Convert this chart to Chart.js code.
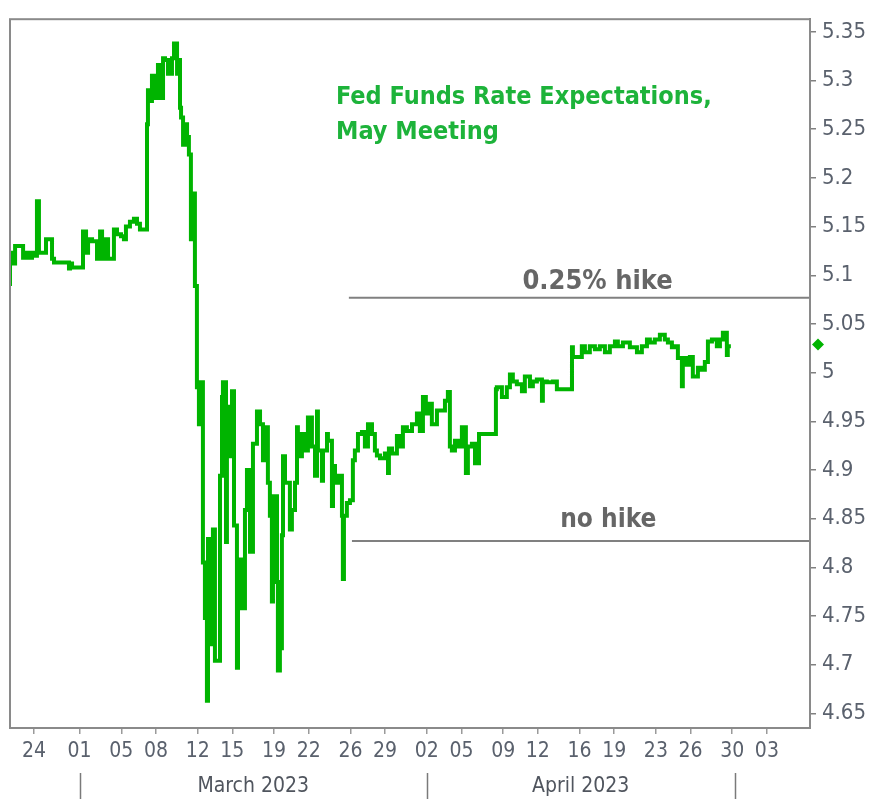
<!DOCTYPE html>
<html>
<head>
<meta charset="utf-8">
<script src="https://cdn.jsdelivr.net/npm/chart.js@4"></script>
<style>
    html, body { margin: 0; padding: 0; background: #fff; }
    #wrap { width: 873px; height: 799px; }
</style>
</head>
<body>
<div id="wrap"><canvas id="myChart" width="873" height="799"></canvas></div>
<script>
// trading days since 24 Feb 2023 (weekends squeezed out)
const days = [
    -1.56, -1.49, -1.23, -0.71, -0.58, -0.39, -0.13, 0.06, 0.19, 0.32, 0.52, 0.78, 1.17, 1.30, 1.43,
    2.27, 2.34, 2.47, 2.79, 3.18, 3.38, 3.51, 3.77, 4.09, 4.29, 4.42, 4.61, 4.81, 4.94, 5.19,
    5.39, 5.65, 5.84, 5.97, 6.23, 6.49, 6.69, 6.88, 7.08, 7.34, 7.40, 7.47, 7.66, 7.79, 7.92,
    8.05, 8.18, 8.38, 8.51, 8.70, 8.96, 9.09, 9.29, 9.35, 9.48, 9.55, 9.68, 9.81, 9.94, 10.06,
    10.19, 10.32, 10.45, 10.58, 10.71, 10.78, 10.97, 11.10, 11.23, 11.30, 11.36, 11.56, 11.62, 11.75, 11.88,
    12.08, 12.21, 12.27, 12.47, 12.53, 12.66, 12.86, 12.99, 13.18, 13.25, 13.51, 13.70, 13.83, 14.03, 14.22,
    14.48, 14.68, 14.87, 15.06, 15.19, 15.32, 15.45, 15.52, 15.78, 15.84, 15.97, 16.10, 16.17, 16.30, 16.43,
    16.62, 16.75, 16.95, 17.08, 17.14, 17.40, 17.60, 17.79, 18.05, 18.25, 18.38, 18.44, 18.70, 18.77, 19.03,
    19.09, 19.35, 19.42, 19.55, 19.74, 20.00, 20.06, 20.13, 20.32, 20.52, 20.71, 20.84, 21.04, 21.30, 21.49,
    21.69, 21.95, 22.14, 22.27, 22.47, 22.79, 22.99, 23.05, 23.25, 23.57, 23.77, 23.96, 24.22, 24.55, 24.87,
    25.06, 25.26, 25.45, 25.58, 25.84, 26.17, 26.36, 26.69, 26.88, 27.01, 27.14, 27.34, 27.53, 27.79, 28.05,
    28.18, 28.44, 28.64, 28.90, 29.16, 29.61, 30.00, 30.06, 30.39, 30.71, 30.91, 31.10, 31.36, 31.69, 31.88,
    32.21, 32.40, 32.66, 32.99, 33.05, 33.31, 33.70, 33.96, 34.16, 34.48, 34.94, 35.00, 35.26, 35.58, 35.78,
    36.10, 36.43, 36.75, 37.08, 37.40, 37.73, 37.92, 38.25, 38.70, 39.16, 39.48, 39.81, 40.00, 40.32, 40.65,
    40.97, 41.17, 41.43, 41.62, 41.82, 42.08, 42.14, 42.40, 42.60, 42.79, 42.92, 43.12, 43.38, 43.57, 43.77,
    44.03, 44.35, 44.55, 44.74, 45.00, 45.06, 45.26
];

// implied rate for the May meeting
const rates = [
    5.089, 5.123, 5.112, 5.130, 5.118, 5.123, 5.118, 5.123, 5.120, 5.176, 5.123, 5.123, 5.137, 5.117, 5.113,
    5.113, 5.107, 5.112, 5.108, 5.108, 5.145, 5.123, 5.137, 5.135, 5.117, 5.145, 5.117, 5.137, 5.117, 5.117,
    5.147, 5.142, 5.140, 5.137, 5.150, 5.155, 5.158, 5.153, 5.147, 5.147, 5.255, 5.290, 5.279, 5.305, 5.282,
    5.297, 5.316, 5.282, 5.323, 5.321, 5.307, 5.323, 5.338, 5.307, 5.321, 5.272, 5.262, 5.234, 5.255, 5.242,
    5.224, 5.137, 5.184, 5.089, 4.985, 4.947, 4.990, 4.805, 4.748, 4.663, 4.829, 4.721, 4.823, 4.839, 4.704,
    4.704, 4.894, 4.975, 4.990, 4.826, 4.965, 4.914, 4.981, 4.843, 4.697, 4.808, 4.758, 4.859, 4.900, 4.816,
    4.927, 4.960, 4.947, 4.910, 4.944, 4.887, 4.853, 4.765, 4.873, 4.785, 4.694, 4.717, 4.833, 4.914, 4.887,
    4.887, 4.839, 4.859, 4.887, 4.944, 4.914, 4.937, 4.920, 4.954, 4.924, 4.894, 4.960, 4.920, 4.889, 4.920,
    4.937, 4.930, 4.863, 4.904, 4.887, 4.894, 4.853, 4.788, 4.853, 4.866, 4.869, 4.910, 4.920, 4.937, 4.939,
    4.924, 4.947, 4.937, 4.920, 4.915, 4.912, 4.917, 4.897, 4.922, 4.917, 4.935, 4.924, 4.944, 4.940, 4.947,
    4.958, 4.940, 4.975, 4.958, 4.968, 4.947, 4.961, 4.961, 4.971, 4.980, 4.924, 4.920, 4.930, 4.924, 4.944,
    4.897, 4.924, 4.927, 4.907, 4.937, 4.937, 4.937, 4.983, 4.985, 4.975, 4.985, 4.998, 4.991, 4.988, 4.981,
    4.996, 4.986, 4.991, 4.993, 4.971, 4.991, 4.990, 4.991, 4.983, 4.983, 4.983, 5.026, 5.016, 5.016, 5.027,
    5.021, 5.027, 5.024, 5.027, 5.021, 5.027, 5.032, 5.027, 5.031, 5.026, 5.021, 5.027, 5.034, 5.031, 5.034,
    5.039, 5.034, 5.031, 5.026, 5.027, 5.015, 4.986, 5.015, 5.008, 5.016, 4.996, 4.996, 5.005, 5.003, 5.011,
    5.032, 5.034, 5.027, 5.034, 5.041, 5.018, 5.027
];

const latest = 5.029;

// reference levels: current rate and a 25bp hike
const refLevels = [5.077, 4.827];
const refStart = [20.45, 20.65];
const refLabels = ["0.25% hike", "no hike"];
const refLabelAt = [36.6, 37.3];
const refLabelLevel = [5.093, 4.848];

// axis ticks
const xTickDays = [0, 2.96, 5.67, 7.92, 10.63, 12.88, 15.59, 17.84, 20.55, 22.8,
    25.51, 27.76, 30.47, 32.72, 35.43, 37.68, 40.39, 42.64, 45.35, 47.6];
const xTickLabels = ["24", "01", "05", "08", "12", "15", "19", "22", "26", "29",
    "02", "05", "09", "12", "16", "19", "23", "26", "30", "03"];
const monthBounds = [2.96, 25.51, 45.5];
const monthLabels = ["March 2023", "April 2023"];
const yTicks = [4.65, 4.7, 4.75, 4.8, 4.85, 4.9, 4.95, 5, 5.05, 5.1, 5.15, 5.2, 5.25, 5.3, 5.35];
const yTickLabels = ["4.65", "4.7", "4.75", "4.8", "4.85", "4.9", "4.95", "5", "5.05", "5.1", "5.15", "5.2", "5.25", "5.3", "5.35"];

const xMin = -1.56;
const xMax = 50.4;

const FONT = "'DejaVu Sans Condensed', 'DejaVu Sans', sans-serif";
const green = "#00b400";
const gray = "#808080";
const labelColor = "#5a616d";

// text, border, month row, last value marker
const extras = {
    id: "extras",
    afterDraw(chart) {
        const ctx = chart.ctx;
        const area = chart.chartArea;
        const x = chart.scales.x;
        const y = chart.scales.y;
        ctx.save();

        // plot frame
        ctx.strokeStyle = "#8a8a8a";
        ctx.lineWidth = 2;
        ctx.strokeRect(area.left, area.top, area.right - area.left, area.bottom - area.top);

        // title
        ctx.fillStyle = "#1db33a";
        ctx.font = "bold 25px " + FONT;
        ctx.textAlign = "left";
        ctx.textBaseline = "middle";
        ctx.fillText("Fed Funds Rate Expectations,", 336, 97);
        ctx.fillText("May Meeting", 336, 132);

        // level labels
        ctx.fillStyle = "#666666";
        ctx.textAlign = "center";
        ctx.font = "bold 27px " + FONT;
        ctx.fillText(refLabels[0], x.getPixelForValue(refLabelAt[0]), y.getPixelForValue(refLabelLevel[0]));
        ctx.font = "bold 26px " + FONT;
        ctx.fillText(refLabels[1], x.getPixelForValue(refLabelAt[1]), y.getPixelForValue(refLabelLevel[1]));

        // month row
        ctx.strokeStyle = "#7a7a7a";
        ctx.lineWidth = 1.5;
        monthBounds.forEach(d => {
            let px = Math.round(x.getPixelForValue(d)) + 0.5;
            ctx.beginPath();
            ctx.moveTo(px, 773);
            ctx.lineTo(px, 799);
            ctx.stroke();
        });
        ctx.fillStyle = "#50555e";
        ctx.font = "21px " + FONT;
        monthLabels.forEach((t, i) => {
            let cx = (x.getPixelForValue(monthBounds[i]) + x.getPixelForValue(monthBounds[i + 1])) / 2;
            ctx.fillText(t, cx, 787);
        });

        // last value marker
        let my = y.getPixelForValue(latest);
        let mx = area.right + 8;
        ctx.fillStyle = green;
        ctx.beginPath();
        ctx.moveTo(mx, my - 6);
        ctx.lineTo(mx + 6, my);
        ctx.lineTo(mx, my + 6);
        ctx.lineTo(mx - 6, my);
        ctx.closePath();
        ctx.fill();

        ctx.restore();
    }
};

const refSets = refLevels.map((lvl, i) => ({
    data: [{ x: refStart[i], y: lvl }, { x: xMax, y: lvl }],
    borderColor: gray,
    borderWidth: 2,
    pointRadius: 0,
}));

const config = {
    type: "line",
    data: {
        datasets: [{
            label: "May meeting",
            data: days.map((d, i) => ({ x: d, y: rates[i] })),
            borderColor: green,
            borderWidth: 4,
            pointRadius: 0,
            stepped: "after",
        }].concat(refSets)
    },
    options: {
        responsive: false,
        animation: false,
        events: [],
        layout: { padding: { left: 10, top: 10, right: 0, bottom: 0 } },
        plugins: {
            legend: { display: false },
            tooltip: { enabled: false },
        },
        scales: {
            x: {
                type: "linear",
                min: xMin,
                max: xMax,
                afterBuildTicks: s => { s.ticks = xTickDays.map(v => ({ value: v })); },
                afterFit: s => { s.height = 71; },
                grid: { drawOnChartArea: false, tickLength: 6, color: "#9a9a9a", lineWidth: 1.5 },
                border: { display: true, color: gray, width: 2 },
                ticks: {
                    autoSkip: false,
                    maxRotation: 0,
                    padding: 5,
                    color: labelColor,
                    font: { family: FONT, size: 21 },
                    callback: (v, i) => xTickLabels[i],
                },
            },
            y: {
                position: "right",
                min: 4.635,
                max: 5.363,
                afterBuildTicks: s => { s.ticks = yTicks.map(v => ({ value: v })); },
                afterFit: s => { s.width = 63; },
                grid: { drawOnChartArea: false, tickLength: 6, color: gray, lineWidth: 1.5 },
                border: { display: true, color: gray, width: 2 },
                ticks: {
                    padding: 6,
                    color: labelColor,
                    font: { family: FONT, size: 22 },
                    callback: (v, i) => yTickLabels[i],
                },
            },
        },
    },
    plugins: [extras],
};

const myChart = new Chart(document.getElementById("myChart"), config);
</script>
</body>
</html>
